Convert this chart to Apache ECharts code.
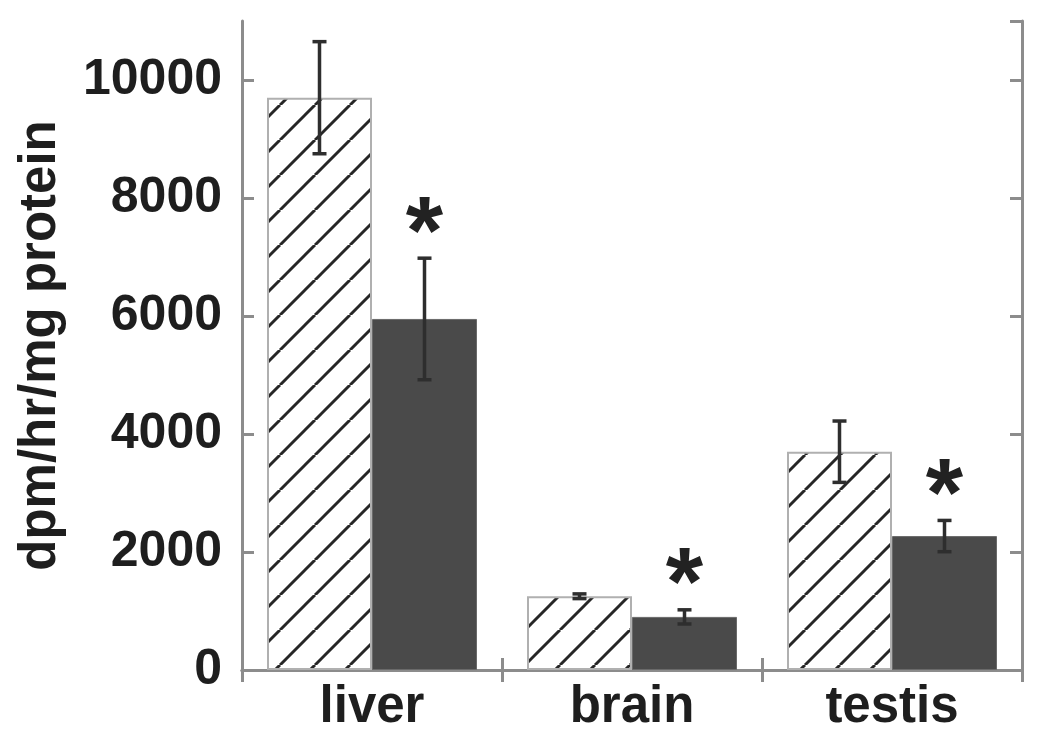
<!DOCTYPE html>
<html>
<head>
<meta charset="utf-8">
<script src="https://cdn.jsdelivr.net/npm/echarts@6/dist/echarts.min.js"></script>
<style>
html,body{margin:0;padding:0;background:#fff;}
#chart{width:1050px;height:749px;}
</style>
</head>
<body>
<div id="chart"></div>
<script>
// ---- data ----
var categories = ['liver', 'brain', 'testis'];
var controlMean = [9700, 1250, 3700];
var controlErr = [950, 40, 520];
var treatedMean = [5950, 900, 2270];
var treatedErr = [1030, 120, 265];
var significant = ['*', '*', '*'];

// ---- hatch pattern ----
function makeHatch() {
  var s = 35;
  var c = document.createElement('canvas');
  c.width = s; c.height = s;
  var ctx = c.getContext('2d');
  ctx.fillStyle = '#ffffff';
  ctx.fillRect(0, 0, s, s);
  ctx.strokeStyle = '#262626';
  ctx.lineWidth = 3;
  for (var k = -1; k <= 1; k++) {
    ctx.beginPath();
    ctx.moveTo(k * s, s);
    ctx.lineTo(k * s + s, 0);
    ctx.stroke();
  }
  return c;
}

var FONT = "'Liberation Sans', Arial, Helvetica, sans-serif";
var frameColor = '#8c8c8c';
var BAR_W = 105;

function errSeries(means, errs, offsetSign, stars) {
  return {
    type: 'custom',
    xAxisIndex: 0, yAxisIndex: 0,
    z: 5,
    data: means.map(function (m, i) { return [i, m, errs[i]]; }),
    renderItem: function (params, api) {
      var i = api.value(0), m = api.value(1), e = api.value(2);
      var c = api.coord([i, m]);
      var x = c[0] + offsetSign * BAR_W / 2;
      var top = api.coord([i, m + e])[1];
      var bot = api.coord([i, m - e])[1];
      var cap = 7;
      var style = { stroke: '#2e2e2e', lineWidth: 3.5 };
      var children = [
        { type: 'line', shape: { x1: x, y1: top, x2: x, y2: bot }, style: style },
        { type: 'line', shape: { x1: x - cap, y1: top, x2: x + cap, y2: top }, style: style },
        { type: 'line', shape: { x1: x - cap, y1: bot, x2: x + cap, y2: bot }, style: style }
      ];
      if (stars && stars[params.dataIndex]) {
        children.push({
          type: 'text',
          style: {
            text: stars[params.dataIndex],
            x: x, y: top - 44 + 22,
            align: 'center', verticalAlign: 'middle',
            font: 'bold 96px ' + FONT,
            fill: '#222'
          }
        });
      }
      return { type: 'group', children: children };
    }
  };
}

var chart = echarts.init(document.getElementById('chart'), null, { renderer: 'canvas' });

var axisLineStyle = { color: frameColor, width: 3 };
var option = {
  animation: false,
  backgroundColor: '#ffffff',
  grid: { left: 242, right: 28, top: 21, bottom: 79, containLabel: false },
  xAxis: [
    {
      type: 'category', data: categories, position: 'bottom',
      axisLine: { lineStyle: axisLineStyle },
      axisTick: { show: true, inside: true, length: 12, lineStyle: axisLineStyle },
      axisLabel: { fontSize: 51, fontWeight: 'bold', fontFamily: FONT, color: '#1e1e1e', margin: 12 },
      splitLine: { show: false }
    },
    {
      type: 'category', data: categories, position: 'top',
      axisLine: { lineStyle: axisLineStyle },
      axisTick: { show: true, inside: true, length: 12, lineStyle: axisLineStyle },
      axisLabel: { show: false },
      splitLine: { show: false }
    }
  ],
  yAxis: [
    {
      type: 'value', min: 0, max: 11000, interval: 2000, position: 'left',
      name: 'dpm/hr/mg protein', nameLocation: 'middle', nameGap: 176,
      nameTextStyle: { fontSize: 51, fontWeight: 'bold', fontFamily: FONT, color: '#1e1e1e' },
      axisLine: { show: true, lineStyle: axisLineStyle },
      axisTick: { show: true, inside: true, length: 12, lineStyle: axisLineStyle },
      axisLabel: {
        fontSize: 50, fontWeight: 'bold', fontFamily: FONT, color: '#1e1e1e', margin: 20,
        showMaxLabel: false,
        formatter: function (v) { return String(v); }
      },
      splitLine: { show: false }
    },
    {
      type: 'value', min: 0, max: 11000, interval: 2000, position: 'right',
      axisLine: { show: true, lineStyle: axisLineStyle },
      axisTick: { show: true, inside: true, length: 12, lineStyle: axisLineStyle },
      axisLabel: { show: false },
      splitLine: { show: false }
    }
  ],
  series: [
    {
      type: 'bar', name: 'control', data: controlMean, barWidth: BAR_W, barGap: '0%',
      itemStyle: { color: { image: makeHatch(), repeat: 'repeat' }, borderColor: '#b0b0b0', borderWidth: 2 },
      z: 2
    },
    {
      type: 'bar', name: 'treated', data: treatedMean, barWidth: BAR_W, barGap: '0%',
      itemStyle: { color: '#4a4a4a', borderColor: '#6a6a6a', borderWidth: 1 },
      z: 2
    },
    errSeries(controlMean, controlErr, -1, null),
    errSeries(treatedMean, treatedErr, 1, significant)
  ]
};
chart.setOption(option);
</script>
</body>
</html>
